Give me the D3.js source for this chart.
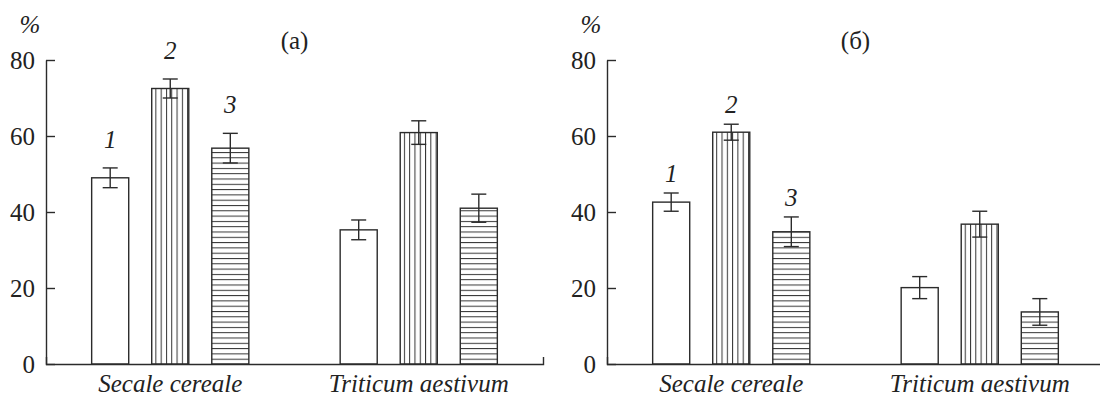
<!DOCTYPE html>
<html>
<head>
<meta charset="utf-8">
<script src="https://cdn.jsdelivr.net/npm/d3@7"></script>
<style>
  body { margin: 0; background: #fff; }
  svg { display: block; }
  text { font-family: "Liberation Serif", "Times New Roman", serif; fill: #222; }
</style>
</head>
<body>
<svg id="chart"></svg>
<script>
const width = 1100;
const height = 398;
const stroke = '#2b2b2b';
const font = '"Liberation Serif", "Times New Roman", serif';

// data
const categories = ["Secale cereale", "Triticum aestivum"];
const seriesLabels = ["1", "2", "3"];
const panelTitles = ["(а)", "(б)"];
const yTicks = [0, 20, 40, 60, 80];

const valuesA = [[49.0, 72.5, 56.8], [35.3, 60.9, 41.0]];
const errorsA = [[2.6, 2.5, 3.9], [2.6, 3.1, 3.7]];
const valuesB = [[42.6, 61.0, 34.8], [20.1, 36.8, 13.7]];
const errorsB = [[2.4, 2.1, 3.9], [2.9, 3.4, 3.5]];

const svg = d3.select("#chart")
  .attr("width", width)
  .attr("height", height);

const defs = svg.append("defs");

const y = d3.scaleLinear().domain([0, 80]).range([364, 60]);

function panel(values, errors, title, x0, labelGap, id) {
  const axisLen = 497;
  const g = svg.append("g").attr("transform", `translate(${x0},0)`);

  const x = d3.scaleBand().domain(categories).range([0, axisLen]);
  const xInner = d3.scaleBand().domain(seriesLabels).range([0, 180])
    .paddingInner(0.383).paddingOuter(0.19);

  const rows = [];
  categories.forEach(function(c, i) {
    seriesLabels.forEach(function(s, j) {
      rows.push({cat: c, ser: s, j: j, v: values[i][j], e: errors[i][j], ci: i});
    });
  });
  rows.forEach(function(d) {
    d.x = x(d.cat) + x.bandwidth() / 2 - 90 + xInner(d.ser);
    d.w = xInner.bandwidth();
  });

  // hatch patterns, one per bar so the lines start at the bar edges
  rows.forEach(function(d, i) {
    if (d.j == 0) return;
    const pid = `p${id}_${i}`;
    d.fill = `url(#${pid})`;
    if (d.j == 1) {
      const step = d.w / 7;
      const p = defs.append("pattern").attr("id", pid)
        .attr("patternUnits", "userSpaceOnUse")
        .attr("x", x0 + d.x).attr("y", 0)
        .attr("width", step).attr("height", 10);
      p.append("rect").attr("width", step).attr("height", 10).attr("fill", "#fff");
      p.append("line").attr("x1", 0.5).attr("x2", 0.5).attr("y1", 0).attr("y2", 10)
        .attr("stroke", "#333").attr("stroke-width", 1);
    } else {
      const step = 5.3;
      const p = defs.append("pattern").attr("id", pid)
        .attr("patternUnits", "userSpaceOnUse")
        .attr("x", 0).attr("y", y(0))
        .attr("width", 10).attr("height", step);
      p.append("rect").attr("width", 10).attr("height", step).attr("fill", "#fff");
      p.append("line").attr("x1", 0).attr("x2", 10).attr("y1", 0.5).attr("y2", 0.5)
        .attr("stroke", "#333").attr("stroke-width", 1);
    }
  });

  g.selectAll("rect.bar")
    .data(rows)
    .join("rect")
    .attr("class", "bar")
    .attr("x", d => d.x)
    .attr("y", d => y(d.v))
    .attr("width", d => d.w)
    .attr("height", d => y(0) - y(d.v))
    .attr("fill", d => d.fill || "#fff")
    .attr("stroke", stroke)
    .attr("stroke-width", 1.4);

  // error bars
  const err = g.selectAll("g.err")
    .data(rows)
    .join("g")
    .attr("class", "err")
    .attr("stroke", stroke)
    .attr("stroke-width", 1.4);
  err.append("line")
    .attr("x1", d => d.x + d.w / 2).attr("x2", d => d.x + d.w / 2)
    .attr("y1", d => y(d.v + d.e)).attr("y2", d => y(d.v - d.e));
  err.append("line")
    .attr("x1", d => d.x + d.w / 2 - 7.5).attr("x2", d => d.x + d.w / 2 + 7.5)
    .attr("y1", d => y(d.v + d.e)).attr("y2", d => y(d.v + d.e));
  err.append("line")
    .attr("x1", d => d.x + d.w / 2 - 7.5).attr("x2", d => d.x + d.w / 2 + 7.5)
    .attr("y1", d => y(d.v - d.e)).attr("y2", d => y(d.v - d.e));

  // series numbers over the first group only
  g.selectAll("text.num")
    .data(rows.filter(d => d.ci == 0))
    .join("text")
    .attr("class", "num")
    .attr("x", d => d.x + d.w / 2)
    .attr("y", d => y(d.v + d.e) - labelGap)
    .attr("dy", "0.35em")
    .attr("text-anchor", "middle")
    .style("font-style", "italic")
    .style("font-size", "25px")
    .text(d => d.ser);

  // y axis, ticks pointing inward
  const yAxis = g.append("g")
    .call(d3.axisLeft(y).tickValues(yTicks).tickSize(-9).tickSizeOuter(0).tickPadding(11));
  yAxis.selectAll("line, path").attr("stroke", stroke).attr("stroke-width", 1.4);
  yAxis.selectAll("text").style("font-size", "25px")
    .style("font-family", font).attr("fill", "#222");

  // x axis with a small end tick
  const xAxis = g.append("g")
    .attr("transform", `translate(0,${y(0)})`)
    .call(d3.axisBottom(x).tickSize(0).tickSizeOuter(-7).tickPadding(10));
  xAxis.select("path").attr("stroke", stroke).attr("stroke-width", 1.4);
  xAxis.selectAll("text").style("font-size", "25px").style("font-style", "italic")
    .style("font-family", font).attr("fill", "#222");

  g.append("text")
    .attr("x", -16).attr("y", 33)
    .attr("text-anchor", "middle")
    .style("font-style", "italic")
    .style("font-size", "25px")
    .text("%");

  g.append("text")
    .attr("x", axisLen / 2).attr("y", 49)
    .attr("text-anchor", "middle")
    .style("font-size", "25px")
    .text(title);
}

panel(valuesA, errorsA, panelTitles[0], 46, 29, "a");
panel(valuesB, errorsB, panelTitles[1], 607, 20, "b");
</script>
</body>
</html>
